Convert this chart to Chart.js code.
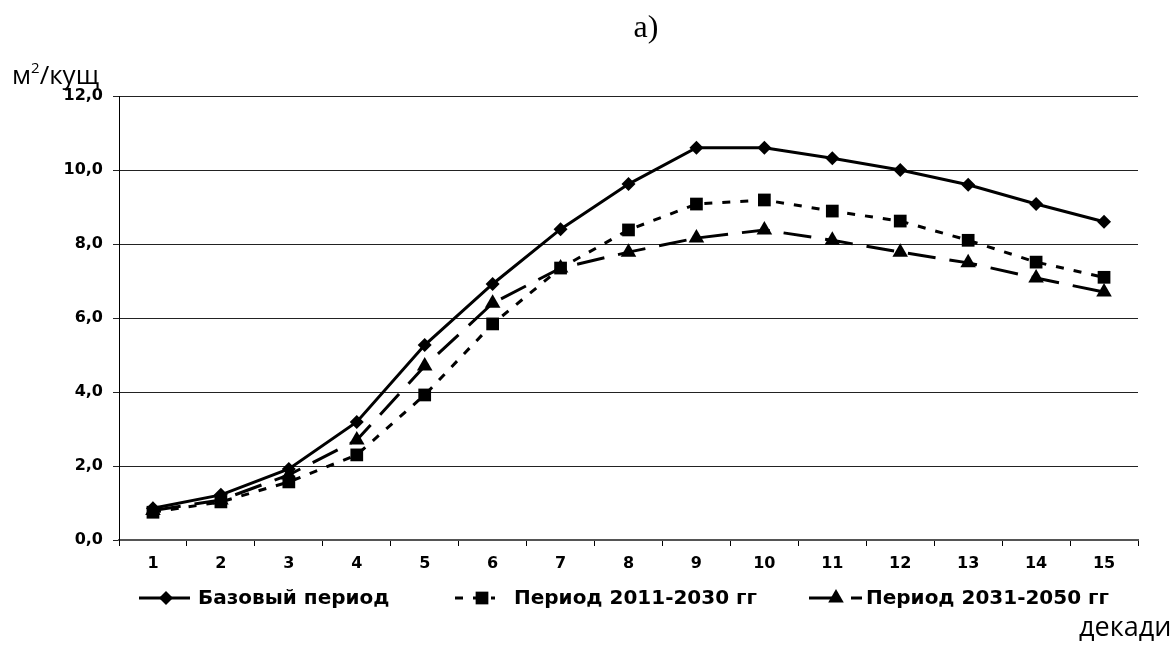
<!DOCTYPE html>
<html>
<head>
<meta charset="utf-8">
<script src="https://cdn.jsdelivr.net/npm/chart.js@4.4.1/dist/chart.umd.min.js"></script>
<style>
  html, body { margin: 0; padding: 0; background: #fff; }
  #wrap { position: relative; width: 1173px; height: 659px; overflow: hidden; }
  #chart { position: absolute; left: 0; top: 0; }
  .lbl { position: absolute; color: #000; white-space: nowrap; }
  #title { left: 0; width: 1292px; top: 8px; text-align: center; font: 32px "Liberation Serif", serif; }
  #yunit { left: 12px; top: 56px; font: 26px "Open Sans", sans-serif; }
  #yunit sup { font-size: 15px; vertical-align: 11px; line-height: 0; }
  #xunit { left: 1079px; top: 607px; font: 27px "Open Sans", sans-serif; }
</style>
</head>
<body>
<div id="wrap">
  <canvas id="chart" width="1173" height="659"></canvas>
  <div class="lbl" id="title">а)</div>
  <div class="lbl" id="yunit">м<sup>2</sup>/кущ</div>
  <div class="lbl" id="xunit">декади</div>
</div>
<script>
// декади
const decades = ['1', '2', '3', '4', '5', '6', '7', '8', '9', '10', '11', '12', '13', '14', '15'];

// м2/куст
const basePeriod = [0.86, 1.22, 1.92, 3.19, 5.27, 6.92, 8.40, 9.62, 10.60, 10.60, 10.32, 10.00, 9.60, 9.08, 8.60];
const period2011 = [0.75, 1.03, 1.57, 2.30, 3.92, 5.84, 7.35, 8.38, 9.08, 9.19, 8.89, 8.62, 8.10, 7.51, 7.10];
const period2031 = [0.80, 1.08, 1.76, 2.70, 4.70, 6.40, 7.35, 7.78, 8.16, 8.38, 8.10, 7.78, 7.49, 7.08, 6.70];

const seriesNames = ['Базовый период', 'Период 2011-2030 гг', 'Период 2031-2050 гг'];
const yTicks = [0, 2, 4, 6, 8, 10, 12];

const tickFont = { family: 'DejaVu Sans', size: 16, weight: 'bold' };

function line(label, data, dash, style, radius) {
    return {
        label: label,
        data: data,
        borderColor: '#000',
        backgroundColor: '#000',
        borderWidth: 3,
        borderDash: dash,
        tension: 0,
        pointStyle: style,
        pointRadius: radius,
        pointBorderWidth: 0,
        pointBackgroundColor: '#000'
    };
}

// legend drawn by hand so the samples look like the Excel ones
const legendPlugin = {
    id: 'excelLegend',
    afterDraw(chart) {
        const ctx = chart.ctx;
        const y = 598;
        const items = [
            { line: [139, 190], mark: 166, text: 198 },
            { line: [455, 495], mark: 482, text: 514 },
            { line: [809, 862], mark: 836, text: 866 }
        ];
        chart.data.datasets.forEach((ds, i) => {
            const it = items[i];
            ctx.save();
            ctx.strokeStyle = '#000';
            ctx.lineWidth = 3;
            ctx.setLineDash(ds.borderDash || []);
            ctx.beginPath();
            ctx.moveTo(it.line[0], y);
            ctx.lineTo(it.line[1], y);
            ctx.stroke();
            ctx.setLineDash([]);
            ctx.fillStyle = '#000';
            Chart.helpers.drawPoint(ctx, { pointStyle: ds.pointStyle, radius: ds.pointRadius, rotation: 0, borderWidth: 0 }, it.mark, y);
            ctx.font = 'bold 20px "DejaVu Sans"';
            ctx.textBaseline = 'middle';
            ctx.textAlign = 'left';
            ctx.fillText(ds.label, it.text, y + 1);
            ctx.restore();
        });
    }
};

new Chart(document.getElementById('chart'), {
    type: 'line',
    data: {
        labels: decades,
        datasets: [
            line(seriesNames[0], basePeriod, [], 'rectRot', 7),
            line(seriesNames[1], period2011, [8, 10], 'rect', 9),
            line(seriesNames[2], period2031, [28, 14], 'triangle', 9)
        ]
    },
    options: {
        responsive: false,
        animation: false,
        layout: { padding: { left: 0, top: 96, right: 35, bottom: 79 } },
        plugins: { legend: { display: false }, tooltip: { enabled: false } },
        scales: {
            x: {
                offset: true,
                grid: { display: true, offset: true, drawOnChartArea: false, drawTicks: true, tickLength: 6, color: '#000', lineWidth: 1 },
                border: { display: true, color: '#555', width: 2 },
                ticks: { color: '#000', font: tickFont, padding: 8, maxRotation: 0 },
                afterFit(scale) { scale.height = 40; }
            },
            y: {
                min: 0,
                max: 12,
                afterBuildTicks(scale) { scale.ticks = yTicks.map(v => ({ value: v })); },
                grid: { color: '#222', lineWidth: 1, drawTicks: true, tickLength: 6 },
                border: { display: true, color: '#000', width: 1 },
                ticks: {
                    color: '#000',
                    font: tickFont,
                    padding: 10,
                    callback: v => v.toFixed(1).replace('.', ',')
                },
                afterFit(scale) { scale.width = 119; }
            }
        }
    },
    plugins: [legendPlugin]
});
</script>
</body>
</html>
